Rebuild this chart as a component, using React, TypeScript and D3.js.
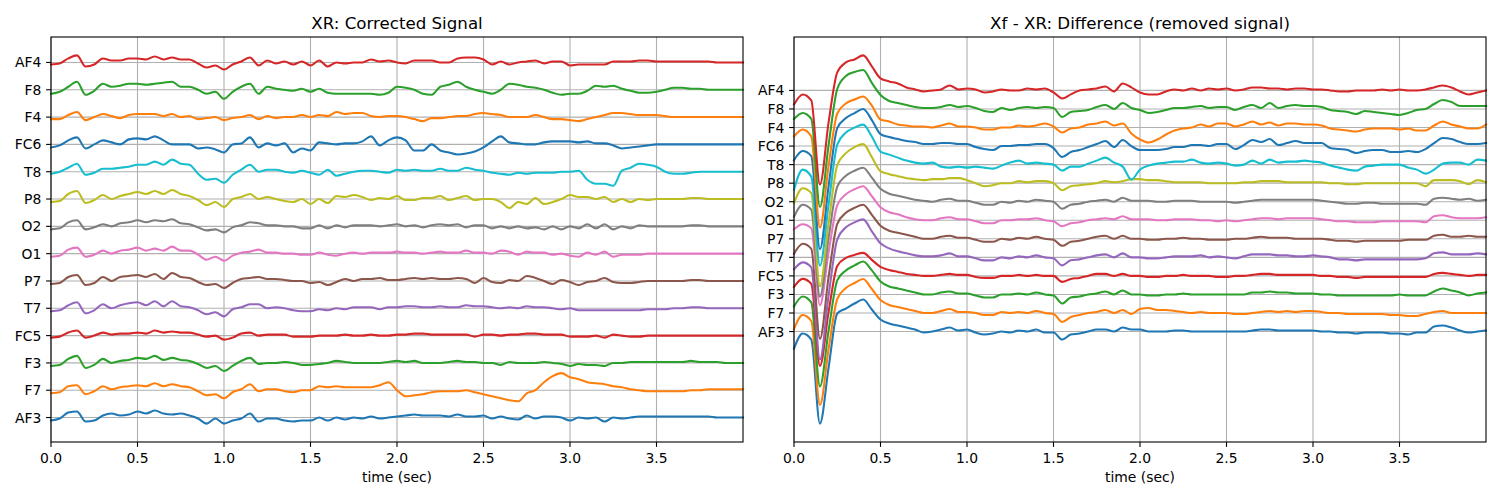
import React from 'react'
import * as d3 from 'd3'

// traces resampled at 20 Hz, values in uV relative to each channel baseline
const fs = 20
const channels = ['AF3', 'F7', 'F3', 'FC5', 'T7', 'P7', 'O1', 'O2', 'P8', 'T8', 'FC6', 'F4', 'F8', 'AF4']
const palette = ['#1f77b4', '#ff7f0e', '#2ca02c', '#d62728', '#9467bd', '#8c564b', '#e377c2', '#7f7f7f', '#bcbd22', '#17becf']
const xTicks = [0, 0.5, 1, 1.5, 2, 2.5, 3, 3.5]
const xrSpacing = 27.15
const dfSpacing = 18.54

// XR: corrected signal
const xrAF3 = [-3,-1,5,6,-4,-3,2,4,2,3,6,4,7,4,3,4,2,-1,-6,-1,-6, -3,-1,4,-4,-1,-1,-3,-4,-3,-3,0,-3,0,-2,0,-1,1,-1,0,1, 2,3,2,2,2,1,3,1,1,2,-1,1,-1,-2,2,-1,1,1,0,-3, 0,-1,0,-4,0,-1,0,1,1,1,1,1,1,1,1,1,0,0,0,0]
const xrF7 = [-3,-2,4,5,-4,-1,4,1,3,4,5,4,7,4,6,4,3,-1,-5,-4,-8, -2,1,6,-1,1,1,-1,-2,0,0,4,3,4,3,3,3,3,5,8,0, -6,-5,-4,-2,-1,-1,-1,0,-2,-4,-6,-8,-10,-11,-3,0,8,14,17,13, 11,8,7,6,4,3,1,0,-1,-1,-1,-1,-1,0,0,1,1,1,1,1]
const xrF3 = [-3,-2,4,7,-5,-2,4,0,2,3,5,4,7,3,5,3,2,-1,-5,-3,-8, -3,2,5,-1,0,0,1,0,-2,-2,-1,0,2,1,0,0,0,0,1,2, 1,2,0,0,0,1,2,1,1,0,0,-2,1,0,0,0,1,0,-1,-3, -1,-2,-2,-3,0,0,1,1,1,1,1,1,1,2,1,1,1,0,0,0]
const xrFC5 = [-2,-1,3,5,-2,0,3,1,2,2,3,2,5,3,4,3,3,1,-1,0,-4, -2,2,3,0,1,1,1,-1,-1,-1,0,0,0,1,0,0,1,0,0,1, 1,2,2,1,1,1,1,1,-1,1,1,0,1,1,2,2,1,1,1,-1, -1,-1,0,-2,1,0,-1,-1,0,0,0,0,0,0,0,0,0,0,0,0]
const xrT7 = [-3,-2,3,6,-5,-2,4,0,3,5,6,3,7,2,7,2,1,-2,-6,-4,-8, -1,1,4,4,0,1,0,-2,-3,-3,-1,-2,0,-1,1,1,1,-1,1,1, 2,2,1,1,2,1,1,3,2,2,1,0,1,0,2,1,1,0,-1,0, -2,-2,-2,-2,-2,-2,-2,-2,-1,-1,-1,0,0,1,1,0,0,0,0,0]
const xrP7 = [-3,-2,4,6,-4,-2,4,0,4,5,6,4,7,2,8,4,3,-1,-4,-3,-7, -2,2,3,4,2,2,1,0,0,-2,-1,-4,-1,2,0,2,2,3,1,1, 2,3,2,3,2,2,3,2,-2,3,-1,-2,1,0,5,3,0,-3,1,-1, -4,-1,0,3,-1,-2,-2,-1,0,0,0,0,0,1,1,0,0,0,0,0]
const xrO1 = [-3,-2,4,6,-3,-1,3,0,3,4,6,3,5,3,7,3,3,-1,-6,-3,-7, -2,1,2,4,1,1,0,0,-1,-1,1,-1,-2,0,1,0,1,1,1,2, 1,1,0,1,2,1,1,3,1,1,0,3,2,-1,2,1,1,-1,0,-2, -3,1,-1,2,-3,-1,-1,-1,0,0,0,0,0,0,0,0,0,0,0,0]
const xrO2 = [-3,-2,4,6,-3,-1,2,0,3,4,6,4,6,5,7,3,2,-1,-4,-3,-6, -1,1,4,3,1,1,0,0,-2,-2,1,-2,1,-1,1,1,1,0,1,2, 0,1,-1,1,2,1,2,-1,1,1,-2,0,-2,0,-2,-1,-3,0,-3,0, -2,2,-2,2,-3,0,-2,1,0,0,0,0,0,1,1,0,0,0,0,0]
const xrP8 = [-3,-2,5,8,-4,-1,4,0,3,5,7,5,8,5,9,5,3,-1,-6,-3,-8, 0,2,5,0,2,0,-2,-3,0,-5,0,-4,3,2,4,2,-1,1,0,3, -1,-1,1,1,3,-1,1,3,-1,0,0,-3,-9,-3,-5,1,-5,-3,0,4, 2,2,0,2,-3,0,-3,0,-1,0,0,0,0,1,1,0,0,0,0,0]
const xrT8 = [-2,0,4,8,-3,-1,3,3,4,5,7,7,10,7,12,8,7,-2,-8,-7,-11, -3,2,7,0,2,2,0,-1,1,-1,-3,2,-4,-2,0,1,1,0,-1,2, 1,2,1,1,3,1,1,4,2,1,-1,-2,-3,-1,-2,-1,-1,-1,0,0, 1,-8,-12,-12,-14,1,4,8,7,5,0,-2,-2,-1,0,0,0,0,0,0]
const xrFC6 = [-3,-1,4,7,-4,0,4,2,0,5,6,5,8,4,0,0,0,-4,-3,-5,-8, 0,1,7,-3,1,-1,1,-8,-4,-6,2,1,0,1,1,3,8,-1,4,7, 4,-6,-6,0,-6,-8,-10,-9,-7,-3,3,8,2,1,0,0,2,3,3,3, 2,3,1,1,-1,-4,-3,-2,-1,0,0,0,0,0,0,0,0,0,0,0]
const xrF4 = [-2,-2,2,5,-3,0,3,1,-1,2,3,3,3,1,3,0,1,-2,-1,0,-3, -1,0,2,-2,1,-1,0,0,2,0,2,1,5,3,4,4,1,0,1,1, 0,-2,-4,-1,-1,0,1,1,3,4,3,2,0,0,0,2,0,-2,-2,-3, -4,-2,0,2,4,4,3,2,2,2,1,0,0,0,0,0,0,0,0,0]
const xrF8 = [-4,-2,3,8,-5,-1,6,3,4,6,6,5,6,7,8,3,3,0,-4,-2,-9, -2,3,6,-4,3,1,0,-1,1,-2,1,-3,-4,-4,-4,-4,-4,-5,-3,3, 2,0,-4,-5,3,5,8,3,0,-2,-4,0,6,5,3,2,0,-3,-5,-4, -4,-1,4,3,4,1,-1,-3,-3,-2,0,2,2,1,1,0,0,0,0,0]
const xrAF4 = [-2,-1,4,7,-4,-2,4,2,2,4,4,3,6,3,5,3,3,-1,-5,-3,-7, -2,1,5,-3,2,-1,1,-2,1,-3,2,-4,0,-1,0,0,3,1,2,0, -1,2,2,2,0,0,4,5,5,3,-2,1,-2,0,1,2,-1,1,1,-3, -2,-2,-2,-2,1,1,1,2,2,1,1,1,1,1,1,1,0,0,0,0]

// Xf - XR: removed signal
const dfAF3 = [-17,-2,-8,-92,-36,18,23,28,32,22,12,8,6,4,2,-1,0,2,4,1,2, -1,-3,-2,0,-1,1,0,2,-1,-1,-8,-3,-2,0,2,2,0,4,2,2, 0,0,0,1,1,0,0,0,0,0,0,0,1,2,2,1,1,1,1,1, 0,0,-1,-1,-2,-1,-1,-1,-2,-2,-3,-1,-1,5,6,4,1,-1,0,1]
const dfF7 = [-16,-2,-8,-92,-36,14,25,30,34,24,13,8,6,4,2,0,0,2,4,1,1, 0,-2,-2,1,0,1,0,2,0,-1,-9,-4,-2,0,1,3,0,3,-1,4, 5,3,3,2,1,0,1,0,0,0,-1,-1,0,1,2,1,2,1,2,2, 1,0,0,-1,-1,-1,-1,-1,-2,-2,-3,-3,-1,1,2,0,0,0,0,0]
const dfF3 = [-12,-2,-8,-92,-36,14,24,29,33,24,13,8,6,4,2,0,0,2,3,1,1, -1,-3,-3,0,0,1,0,2,0,-1,-9,-3,-2,0,1,3,0,4,0,0, -1,-1,0,0,1,0,0,0,0,0,0,0,2,2,3,2,2,1,1,1, 0,0,-1,-1,-1,-1,-1,-1,-1,0,-1,-1,-1,3,6,4,2,-1,1,2]
const dfFC5 = [-11,-3,-8,-90,-36,10,18,21,23,16,9,6,4,2,1,0,0,1,2,1,1, -1,-2,-2,0,0,1,0,1,0,0,-6,-3,-2,0,2,2,0,2,0,0, -1,-1,0,0,1,0,0,0,-1,-1,0,0,1,2,2,1,1,1,1,1, 0,0,-1,-1,-2,-1,-1,-1,-1,-1,-1,-1,-1,2,3,2,1,0,1,1]
const dfT7 = [-12,-5,-10,-102,-38,18,30,35,38,26,14,9,6,4,2,1,1,2,4,1,1, -1,-3,-3,0,-1,1,0,2,0,-1,-8,-3,-2,0,2,3,0,4,0,0, -1,-1,0,1,1,1,2,0,1,0,-1,1,3,3,3,2,2,1,1,2, 1,0,-2,-2,-3,-2,-2,-2,-2,-2,-2,-2,-1,4,5,3,3,3,4,3]
const dfP7 = [-15,-5,-10,-100,-38,15,26,31,34,24,13,8,6,4,2,0,0,2,3,1,1, -1,-3,-3,0,-1,1,0,2,0,-1,-7,-3,-2,0,2,3,0,3,0,0, -1,-1,0,0,1,0,0,-1,-1,-1,0,0,1,2,1,1,1,0,0,0, 0,-1,-2,-2,-3,-2,-2,-2,-2,-2,-1,-1,-1,3,4,2,2,3,2,2]
const dfO1 = [-9,-4,-8,-85,-32,15,26,31,34,24,13,8,6,3,1,0,0,2,3,1,1, -1,-3,-3,0,0,1,1,2,0,-1,-6,-3,-2,0,1,2,1,4,1,1, 1,0,0,1,1,1,0,0,-1,0,-1,0,1,2,2,1,2,2,2,2, 1,0,-1,-1,-2,-2,-2,-1,-1,-1,-1,-1,-2,4,5,3,2,2,2,3]
const dfO2 = [-15,-3,-8,-95,-36,15,26,31,34,24,13,8,6,4,2,1,0,2,3,1,1, -1,-3,-3,0,-1,1,0,2,1,0,-7,-3,-2,0,1,2,0,4,1,1, 1,0,0,1,1,1,0,0,0,0,-1,0,1,2,2,2,2,2,2,2, 1,0,-1,-2,-2,-1,-1,-2,-2,-2,-2,-2,-3,3,4,3,2,3,1,2]
const dfP8 = [-20,-5,-10,-103,-40,18,30,36,39,26,12,9,7,5,4,3,4,4,5,5,3, 0,-3,-2,0,0,2,1,2,2,0,-7,-3,-2,-1,0,2,1,2,4,4, 3,3,2,1,1,1,1,0,0,0,0,1,1,2,2,2,1,1,1,1, 1,0,0,-1,-1,0,0,0,0,0,0,0,-3,3,3,3,2,-1,3,1]
const dfT8 = [-25,-5,-12,-101,-40,20,32,37,40,28,13,10,7,4,2,1,2,-2,-3,-2,-3, -2,-3,-4,-1,2,4,1,2,1,0,-6,-2,-2,1,4,7,2,-2,-15,-5, -1,1,2,3,3,5,2,1,2,1,-1,0,4,1,5,2,3,3,4,3, 2,-1,-3,-5,-6,-2,-1,0,0,0,-3,-5,-9,-5,1,2,2,0,5,4]
const dfFC6 = [-14,-5,-10,-103,-40,18,28,33,37,26,12,9,7,5,4,2,2,3,3,2,2, -1,-3,-4,0,0,1,1,2,2,-2,-11,-6,-4,-1,2,5,-1,6,0,-4, -4,-4,-3,-1,-1,1,1,0,2,2,-3,1,6,4,7,1,3,5,3,3, 3,-2,-3,-4,-7,-5,-4,-4,-6,-6,-5,-6,-3,3,8,7,4,2,2,3]
const dfF4 = [-9,-2,-9,-100,-38,14,24,28,31,22,8,6,3,2,1,1,0,2,4,1,1, 0,-2,-2,0,0,2,1,2,4,1,-5,-1,0,3,4,6,2,4,-6,-12, -15,-12,-7,-3,-1,0,3,1,4,4,1,3,6,3,5,2,4,4,3,3, 2,-1,-2,-3,-4,-2,-1,-1,-1,-2,-1,-3,-3,2,6,3,1,-1,-1,3]
const dfF8 = [-10,-4,-10,-98,-36,20,33,37,39,26,14,8,6,4,2,1,1,2,4,2,3, 1,-2,-3,1,-1,1,2,1,2,1,-8,-3,-2,-1,2,4,0,6,1,-1, -4,-3,-1,1,1,2,3,1,2,2,-1,2,4,1,6,1,3,4,3,3, 2,-1,-2,-3,-5,-2,-3,-4,-5,-6,-4,-1,0,5,9,7,3,3,3,3]
const dfAF4 = [-14,-4,-10,-94,-32,18,28,31,35,24,12,9,7,3,1,-1,0,1,5,1,2, 1,-2,-1,1,0,0,2,1,2,-2,-8,-4,0,1,2,4,-1,7,3,-2, -4,-4,-1,1,0,2,0,2,1,2,0,1,3,3,2,2,1,2,2,1, 1,0,-1,-1,0,0,0,1,0,1,0,0,1,3,5,3,-1,-4,-2,0]

const xrSeries = [xrAF3, xrF7, xrF3, xrFC5, xrT7, xrP7, xrO1, xrO2, xrP8, xrT8, xrFC6, xrF4, xrF8, xrAF4]
const dfSeries = [dfAF3, dfF7, dfF3, dfFC5, dfT7, dfP7, dfO1, dfO2, dfP8, dfT8, dfFC6, dfF4, dfF8, dfAF4]

const font = 'DejaVu Sans'

const Panel = ({ left, title, series, spacing }: { left: number, title: string, series: number[][], spacing: number }) => {
  const top = 37
  const w = 692
  const h = 405
  const n = d3.max(series, s => s.length) as number
  const x = d3.scaleLinear().domain([0, (n - 1) / fs]).range([left, left + w])
  const lo = d3.min(series, (s, i) => (d3.min(s) as number) + i * spacing) as number
  const hi = d3.max(series, (s, i) => (d3.max(s) as number) + i * spacing) as number
  const m = (hi - lo) * 0.05
  const y = d3.scaleLinear().domain([lo - m, hi + m]).range([top + h, top])

  const pathFor = (s: number[], k: number) =>
    d3.line<number>()
      .x((_, i) => x(i / fs))
      .y(v => y(v + k * spacing))
      .curve(d3.curveMonotoneX)(s) || ''

  return (
    <g>
      {/* grid */}
      {xTicks.map(t => (
        <line key={'gx' + t} x1={x(t)} x2={x(t)} y1={top} y2={top + h} stroke='#b0b0b0' strokeWidth={1.1} />
      ))}
      {channels.map((c, k) => (
        <line key={'gy' + c} x1={left} x2={left + w} y1={y(k * spacing)} y2={y(k * spacing)} stroke='#b0b0b0' strokeWidth={1.1} />
      ))}

      {series.map((s, k) => (
        <path key={'l' + k} d={pathFor(s, k)} fill='none' stroke={palette[k % palette.length]} strokeWidth={2.08} strokeLinejoin='round' strokeLinecap='square' />
      ))}

      <rect x={left} y={top} width={w} height={h} fill='none' stroke='#000' strokeWidth={1.1} />

      {/* x axis */}
      {xTicks.map(t => (
        <g key={'tx' + t}>
          <line x1={x(t)} x2={x(t)} y1={top + h} y2={top + h + 4.9} stroke='#000' strokeWidth={1.1} />
          <text x={x(t)} y={top + h + 21} textAnchor='middle' fontSize={13.9} fontFamily={font}>{d3.format('.1f')(t)}</text>
        </g>
      ))}
      <text x={left + w / 2} y={482} textAnchor='middle' fontSize={13.9} fontFamily={font}>time (sec)</text>

      {/* y axis */}
      {channels.map((c, k) => (
        <g key={'ty' + c}>
          <line x1={left - 4.9} x2={left} y1={y(k * spacing)} y2={y(k * spacing)} stroke='#000' strokeWidth={1.1} />
          <text x={left - 9.7} y={y(k * spacing)} dy='0.36em' textAnchor='end' fontSize={13.9} fontFamily={font}>{c}</text>
        </g>
      ))}

      <text x={left + w / 2} y={28.7} textAnchor='middle' fontSize={16.67} fontFamily={font}>{title}</text>
    </g>
  )
}

const App = () => {
  return (
    <svg width={1500} height={500} style={{ position: 'absolute', left: 0, top: 0, background: '#fff' }}>
      <rect width={1500} height={500} fill='#fff' />
      <Panel left={51} title='XR: Corrected Signal' series={xrSeries} spacing={xrSpacing} />
      <Panel left={794} title='Xf - XR: Difference (removed signal)' series={dfSeries} spacing={dfSpacing} />
    </svg>
  )
}

export default App
